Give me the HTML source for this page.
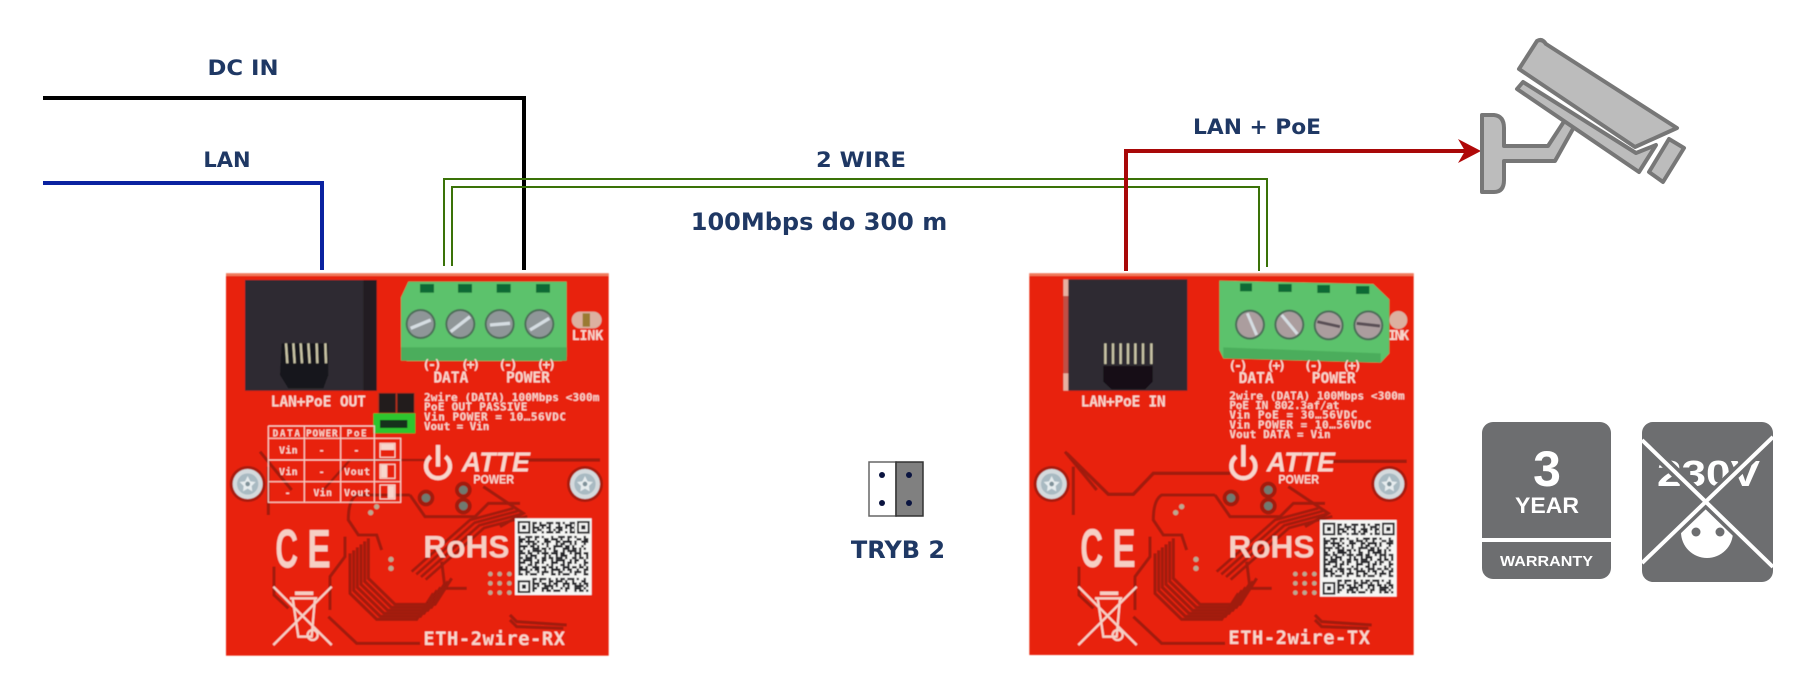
<!DOCTYPE html>
<html lang="pl">
<head>
<meta charset="utf-8">
<title>ETH-2wire</title>
<style>
html,body{margin:0;padding:0;background:#fff;width:1816px;height:700px;overflow:hidden}
svg{display:block}
.l{font-family:"DejaVu Sans","Liberation Sans",sans-serif;font-weight:700;fill:#1f3864;text-anchor:middle}
.m{font-family:"DejaVu Sans Mono","Liberation Mono",monospace;font-weight:700;fill:#f8d6cc}
.b{font-family:"Liberation Sans",sans-serif;font-weight:700;fill:#fff}
</style>
</head>
<body>
<svg width="1816" height="700" viewBox="0 0 1816 700" xmlns="http://www.w3.org/2000/svg">
<defs>
<clipPath id="nobadge"><rect x="1642" y="422" width="131" height="160" rx="11"/></clipPath>
<filter id="soft" x="-2%" y="-2%" width="104%" height="104%"><feGaussianBlur stdDeviation="1.5"/></filter>
<g id="screw">
  <circle r="54" fill="#a81a0e"/>
  <circle r="45" fill="#d4dadd"/>
  <circle r="32" fill="#a9bac2"/>
  <path d="M0 -24 L8 -8 L24 -6 L12 6 L14 22 L0 14 L-14 22 L-12 6 L-24 -6 L-8 -8Z" fill="#e6ecee"/>
  <circle r="7" fill="#7f929a"/>
</g>
<g id="scr">
  <circle r="45" fill="#4d6e58"/>
  <circle r="39" fill="#8f9698"/>
</g>
<g id="bus" fill="none" stroke="#a01a0e" stroke-width="9">
  <path d="M450 880V1000L530 1078H650L700 1000"/>
</g>
<g id="rbus" fill="none" stroke="#a01a0e" stroke-width="8">
  <path d="M635 935L810 780L940 745"/>
</g>
<g id="traces">
  <g fill="none" stroke="#a01a0e" stroke-width="9">
    <path d="M630 705H470Q445 720 445 780L475 825H530L545 870"/>
    <path d="M630 705L675 770H825L865 730H960"/>
    <path d="M850 680L970 760L900 800"/>
    <path d="M385 1070L470 1150H660"/>
    <path d="M930 1065L950 1085L1100 1095"/>
    <path d="M930 1080L950 1100L1090 1105"/>
    <path d="M222 920V1005L265 1045"/>
    <path d="M725 905L735 985H800"/>
    <path d="M435 830V890L390 950V1050"/>
    <path d="M180 575L275 690"/>
    <path d="M205 620V765"/>
  </g>
  <use href="#bus"/>
  <use href="#bus" transform="translate(11,-9)"/>
  <use href="#bus" transform="translate(22,-18)"/>
  <use href="#bus" transform="translate(33,-27)"/>
  <use href="#bus" transform="translate(44,-36)"/>
  <use href="#bus" transform="translate(55,-45)"/>
  <use href="#rbus"/>
  <use href="#rbus" transform="translate(14,8)"/>
  <use href="#rbus" transform="translate(28,16)"/>
  <use href="#rbus" transform="translate(42,24)"/>
  <circle cx="678" cy="714" r="25" fill="#a01a0e"/><circle cx="678" cy="714" r="13" fill="#6f7a70"/>
  <circle cx="790" cy="690" r="25" fill="#a01a0e"/><circle cx="790" cy="690" r="13" fill="#6f7a70"/>
  <circle cx="790" cy="738" r="25" fill="#a01a0e"/><circle cx="790" cy="738" r="13" fill="#6f7a70"/>
  <g fill="#bba890">
    <circle cx="530" cy="740" r="8"/><circle cx="512" cy="758" r="8"/>
    <circle cx="573" cy="898" r="8"/><circle cx="573" cy="925" r="8"/>
    <circle cx="871" cy="942" r="7"/><circle cx="899" cy="942" r="7"/><circle cx="928" cy="942" r="7"/>
    <circle cx="871" cy="970" r="7"/><circle cx="899" cy="970" r="7"/><circle cx="928" cy="970" r="7"/>
    <circle cx="871" cy="998" r="7"/><circle cx="899" cy="998" r="7"/><circle cx="928" cy="998" r="7"/>
  </g>
</g>
<g id="qr">
  <rect width="230" height="230" fill="#f6f6f4"/>
  <g stroke="#26262a" stroke-width="7" fill="none">
    <path d="M52 14H180" stroke-dasharray="14 7 7 14 21 7"/>
    <path d="M52 21H180" stroke-dasharray="7 14 21 7 7 21"/>
    <path d="M52 28H180" stroke-dasharray="21 7 7 7 14 14"/>
    <path d="M52 35H180" stroke-dasharray="7 7 14 21 7 7"/>
    <path d="M52 42H180" stroke-dasharray="14 14 7 7 21 7"/>
    <path d="M10 56H220" stroke-dasharray="7 14 21 7 14 7 7 21"/>
    <path d="M10 63H220" stroke-dasharray="21 7 7 14 7 21 14 7"/>
    <path d="M10 70H220" stroke-dasharray="14 7 28 7 7 14 21 14"/>
    <path d="M10 77H220" stroke-dasharray="7 21 7 7 14 14 7 7"/>
    <path d="M10 84H220" stroke-dasharray="28 7 14 7 7 21 7 14"/>
    <path d="M10 91H220" stroke-dasharray="7 7 7 21 21 7 14 7"/>
    <path d="M10 98H220" stroke-dasharray="14 14 7 7 28 7 7 21"/>
    <path d="M10 105H220" stroke-dasharray="21 7 14 14 7 7 21 7"/>
    <path d="M10 112H220" stroke-dasharray="7 14 7 7 21 21 7 7"/>
    <path d="M10 119H220" stroke-dasharray="14 7 21 7 7 14 14 7"/>
    <path d="M10 126H220" stroke-dasharray="7 7 28 14 7 7 14 14"/>
    <path d="M10 133H220" stroke-dasharray="21 14 7 7 14 7 7 21"/>
    <path d="M10 140H220" stroke-dasharray="7 21 14 7 7 28 7 7"/>
    <path d="M10 147H220" stroke-dasharray="14 7 7 14 21 7 14 7"/>
    <path d="M10 154H220" stroke-dasharray="28 7 7 7 14 14 7 14"/>
    <path d="M10 161H220" stroke-dasharray="7 14 14 21 7 7 21 7"/>
    <path d="M10 168H220" stroke-dasharray="14 7 7 7 21 14 7 21"/>
    <path d="M52 182H220" stroke-dasharray="14 7 21 7 7 14 7 7"/>
    <path d="M52 189H220" stroke-dasharray="7 14 7 21 14 7 21 7"/>
    <path d="M52 196H220" stroke-dasharray="21 7 14 7 7 7 14 14"/>
    <path d="M52 203H220" stroke-dasharray="7 7 7 14 28 7 7 14"/>
    <path d="M52 210H220" stroke-dasharray="14 14 21 7 7 21 7 7"/>
    <path d="M52 217H220" stroke-dasharray="7 21 7 7 14 7 21 14"/>
  </g>
  <g id="fd" fill="none" stroke="#26262a" stroke-width="6">
    <rect x="11" y="11" width="32" height="32"/>
    <rect x="21" y="21" width="12" height="12" fill="#26262a" stroke="none"/>
  </g>
  <use href="#fd" transform="translate(178,0)"/>
  <use href="#fd" transform="translate(0,178)"/>
</g>
<g id="bin" fill="none" stroke="#f6cfc4" stroke-width="7">
  <path d="M220 980L395 1155M395 980L220 1155"/>
  <path d="M270 1015H352M278 1015L295 1130H335L345 1015"/>
  <path d="M285 1000H340" stroke-width="11"/>
  <circle cx="338" cy="1125" r="15"/>
</g>
</defs>

<rect width="1816" height="700" fill="#fff"/>

<!-- Board 1 -->
<g transform="translate(200,260) scale(.33333)">
 <g filter="url(#soft)">
  <rect x="78" y="40" width="1148" height="1147" fill="#e8200d"/>
  <rect x="78" y="40" width="1148" height="8" fill="#f07a5c"/>
  <use href="#traces"/>
  <path d="M370 690L450 600H675" fill="none" stroke="#a01a0e" stroke-width="7"/>
  <path d="M960 600H1200" fill="none" stroke="#a01a0e" stroke-width="10"/>
  <!-- jack -->
  <rect x="135" y="60" width="395" height="332" fill="#2e2c33"/>
  <rect x="490" y="60" width="40" height="332" fill="#231c20"/>
  <path d="M245 250H385V345L370 385H265L240 345Z" fill="#16141a"/>
  <g stroke="#c9c4a6" stroke-width="7"><path d="M258 250L262 310M280 250L284 310M302 250L306 310M325 250L329 310M350 250L352 310M376 250L378 310"/></g>
  <!-- terminal -->
  <path d="M603 112L625 65H1100V290L1085 303H620L603 270Z" fill="#5cc26c"/>
  <rect x="603" y="262" width="497" height="40" fill="#4cad5b"/>
  <g fill="#0c6b34"><rect x="660" y="72" width="42" height="26"/><rect x="774" y="72" width="42" height="26"/><rect x="890" y="72" width="42" height="26"/><rect x="1008" y="72" width="42" height="26"/></g>
  <use href="#scr" x="662" y="192"/><use href="#scr" x="781" y="192"/><use href="#scr" x="899" y="192"/><use href="#scr" x="1018" y="192"/>
  <g stroke="#d5dde2" stroke-width="10"><path d="M632 205L692 180M752 215L810 170M870 195L930 190M990 210L1048 175"/></g>
  <!-- LED -->
  <rect x="1115" y="155" width="90" height="50" rx="25" fill="#dcb0a0"/>
  <rect x="1148" y="160" width="22" height="40" fill="#9a7a30"/>
  <text class="m" x="1115" y="240" font-size="40" textLength="95">LINK</text>
  <text class="m" x="667" y="327" font-size="40" textLength="58">(-)</text>
  <text class="m" x="783" y="327" font-size="40" textLength="58">(+)</text>
  <text class="m" x="895" y="327" font-size="40" textLength="58">(-)</text>
  <text class="m" x="1010" y="327" font-size="40" textLength="58">(+)</text>
  <text class="m" x="700" y="367" font-size="44" textLength="105">DATA</text>
  <text class="m" x="918" y="367" font-size="44" textLength="132">POWER</text>
  <text class="m" x="212" y="440" font-size="44" textLength="286">LAN+PoE OUT</text>
  <text class="m" x="672" y="423" font-size="33" textLength="526">2wire (DATA) 100Mbps &lt;300m</text>
  <text class="m" x="672" y="452" font-size="33" textLength="310">PoE OUT PASSIVE</text>
  <text class="m" x="672" y="481" font-size="33" textLength="426">Vin POWER = 10…56VDC</text>
  <text class="m" x="672" y="510" font-size="33" textLength="196">Vout = Vin</text>
  <!-- jumper -->
  <rect x="533" y="398" width="112" height="62" fill="#b8301f"/>
  <rect x="537" y="400" width="50" height="58" fill="#231a1c"/>
  <rect x="592" y="400" width="50" height="58" fill="#231a1c"/>
  <rect x="520" y="460" width="126" height="60" fill="#2dc52f"/>
  <rect x="540" y="480" width="82" height="24" fill="#14301a"/>
  <!-- table -->
  <g fill="none" stroke="#f8d6cc" stroke-width="3.5">
    <path d="M205 498H523V535M205 498V727H602V535H313M205 600H602M205 665H602M313 498V727M422 498V727M523 535V727M205 535H313"/>
    <rect x="540" y="550" width="45" height="42"/><rect x="540" y="613" width="45" height="42"/><rect x="540" y="675" width="45" height="42"/>
  </g>
  <g fill="#f8d6cc"><rect x="542" y="552" width="41" height="18"/><rect x="542" y="615" width="20" height="38"/><rect x="563" y="677" width="20" height="38"/></g>
  <text class="m" x="218" y="530" font-size="28" textLength="82">DATA</text>
  <text class="m" x="318" y="530" font-size="28" textLength="95">POWER</text>
  <text class="m" x="440" y="530" font-size="28" textLength="60">PoE</text>
  <text class="m" x="237" y="581" font-size="30" textLength="56">Vin</text>
  <text class="m" x="356" y="581" font-size="30">-</text>
  <text class="m" x="460" y="581" font-size="30">-</text>
  <text class="m" x="237" y="645" font-size="30" textLength="56">Vin</text>
  <text class="m" x="356" y="645" font-size="30">-</text>
  <text class="m" x="432" y="645" font-size="30" textLength="78">Vout</text>
  <text class="m" x="254" y="708" font-size="30">-</text>
  <text class="m" x="340" y="708" font-size="30" textLength="56">Vin</text>
  <text class="m" x="432" y="708" font-size="30" textLength="78">Vout</text>
  <!-- logo -->
  <path d="M692 590A36 36 0 1 0 736 590" fill="none" stroke="#f8d6cc" stroke-width="13"/>
  <path d="M714 555V620" stroke="#f8d6cc" stroke-width="13"/>
  <text class="b" x="785" y="635" font-size="84" font-style="italic" textLength="205" lengthAdjust="spacingAndGlyphs" style="fill:#f8d6cc">ATTE</text>
  <text class="b" x="820" y="670" font-size="36" textLength="122" lengthAdjust="spacingAndGlyphs" style="fill:#f8d6cc">POWER</text>
  <use href="#screw" x="143" y="672"/>
  <use href="#screw" x="1155" y="672"/>
  <text class="b" x="226" y="923" font-size="165" textLength="68" lengthAdjust="spacingAndGlyphs" style="fill:#f6cfc4">C</text>
  <text class="b" x="322" y="923" font-size="165" textLength="70" lengthAdjust="spacingAndGlyphs" style="fill:#f6cfc4">E</text>
  <text class="b" x="670" y="893" font-size="95" style="fill:#f6cfc4">RoHS</text>
  <use href="#qr" x="945" y="775"/>
  <use href="#bin"/>
  <text class="m" x="670" y="1155" font-size="56" textLength="425">ETH-2wire-RX</text>
 </g>
</g>

<!-- Board 2 -->
<g transform="translate(1010,260) scale(.33333)">
 <g filter="url(#soft)">
  <rect x="58" y="40" width="1153" height="1145" fill="#e8200d"/>
  <rect x="58" y="40" width="1153" height="8" fill="#f07a5c"/>
  <g transform="translate(-15,0)"><use href="#traces"/></g>
  <path d="M170 580L295 703H370L430 640H660" fill="none" stroke="#a01a0e" stroke-width="10"/>
  <path d="M960 604H1190" fill="none" stroke="#a01a0e" stroke-width="10"/>
  <!-- jack -->
  <rect x="160" y="58" width="18" height="334" fill="#c05045"/>
  <rect x="160" y="58" width="18" height="50" fill="#e8b0a0"/>
  <rect x="160" y="340" width="18" height="52" fill="#e8b0a0"/>
  <rect x="175" y="58" width="357" height="334" fill="#2e2c33"/>
  <path d="M280 318H428V365L405 388H305L280 365Z" fill="#121015"/>
  <g stroke="#c9c4a6" stroke-width="7"><path d="M286 250V312M309 250V312M332 250V312M354 250V312M376 250V312M399 250V312M424 250V312"/></g>
  <!-- terminal -->
  <path d="M628 62L1090 72L1138 118V280L1112 308L640 295L628 270Z" fill="#5cc26c"/>
  <path d="M640 262L1112 280V308L640 295Z" fill="#4cad5b"/>
  <g fill="#0c6b34"><rect x="690" y="70" width="36" height="24"/><rect x="805" y="72" width="40" height="24"/><rect x="922" y="75" width="38" height="24"/><rect x="1038" y="78" width="40" height="24"/></g>
  <use href="#scr" x="720" y="194"/><use href="#scr" x="838" y="194"/><use href="#scr" x="956" y="196"/><use href="#scr" x="1075" y="196"/>
  <g fill="#ab9d9e"><circle cx="720" cy="194" r="38"/><circle cx="838" cy="194" r="38"/><circle cx="956" cy="196" r="38"/><circle cx="1075" cy="196" r="38"/></g>
  <g stroke="#d5dde2" stroke-width="9"><path d="M712 160L740 225M815 165L862 222"/></g>
  <g stroke="#5a5056" stroke-width="9"><path d="M922 185L990 200M1040 190L1110 198"/></g>
  <circle cx="1165" cy="180" r="27" fill="#dcb0a0"/>
  <text class="m" x="1135" y="240" font-size="40" textLength="62">INK</text>
  <text class="m" x="655" y="330" font-size="40" textLength="58">(-)</text>
  <text class="m" x="770" y="330" font-size="40" textLength="58">(+)</text>
  <text class="m" x="882" y="330" font-size="40" textLength="58">(-)</text>
  <text class="m" x="997" y="330" font-size="40" textLength="58">(+)</text>
  <text class="m" x="686" y="369" font-size="44" textLength="105">DATA</text>
  <text class="m" x="905" y="369" font-size="44" textLength="132">POWER</text>
  <text class="m" x="212" y="440" font-size="44" textLength="255">LAN+PoE IN</text>
  <text class="m" x="658" y="418" font-size="33" textLength="526">2wire (DATA) 100Mbps &lt;300m</text>
  <text class="m" x="658" y="447" font-size="33" textLength="330">PoE IN 802.3af/at</text>
  <text class="m" x="658" y="476" font-size="33" textLength="384">Vin PoE = 30…56VDC</text>
  <text class="m" x="658" y="505" font-size="33" textLength="426">Vin POWER = 10…56VDC</text>
  <text class="m" x="658" y="534" font-size="33" textLength="304">Vout DATA = Vin</text>
  <path d="M678 590A36 36 0 1 0 722 590" fill="none" stroke="#f8d6cc" stroke-width="13"/>
  <path d="M700 555V620" stroke="#f8d6cc" stroke-width="13"/>
  <text class="b" x="770" y="635" font-size="84" font-style="italic" textLength="205" lengthAdjust="spacingAndGlyphs" style="fill:#f8d6cc">ATTE</text>
  <text class="b" x="805" y="670" font-size="36" textLength="122" lengthAdjust="spacingAndGlyphs" style="fill:#f8d6cc">POWER</text>
  <use href="#screw" x="125" y="672"/>
  <use href="#screw" x="1138" y="672"/>
  <text class="b" x="211" y="921" font-size="165" textLength="68" lengthAdjust="spacingAndGlyphs" style="fill:#f6cfc4">C</text>
  <text class="b" x="307" y="921" font-size="165" textLength="70" lengthAdjust="spacingAndGlyphs" style="fill:#f6cfc4">E</text>
  <text class="b" x="655" y="893" font-size="95" style="fill:#f6cfc4">RoHS</text>
  <use href="#qr" x="930" y="780"/>
  <use href="#bin" transform="translate(-15,0)"/>
  <text class="m" x="655" y="1152" font-size="56" textLength="425">ETH-2wire-TX</text>
 </g>
</g>

<!-- Wires -->
<g fill="none" stroke-linejoin="miter">
  <path d="M43 98H524V270" stroke="#000" stroke-width="4"/>
  <path d="M43 183H322V270" stroke="#0a22a0" stroke-width="4"/>
  <path d="M444 266V179H1267V267" stroke="#3a7208" stroke-width="2"/>
  <path d="M452 266V187H1259V271" stroke="#3a7208" stroke-width="2"/>
  <path d="M1126 271V151H1466" stroke="#a80808" stroke-width="4"/>
</g>
<path d="M1481 151L1458 139L1465 151L1458 163Z" fill="#b00808"/>

<!-- Labels -->
<text class="l" x="243" y="75" font-size="21" textLength="71" lengthAdjust="spacingAndGlyphs">DC IN</text>
<text class="l" x="227" y="167" font-size="21">LAN</text>
<text class="l" x="861" y="167" font-size="21" textLength="90" lengthAdjust="spacingAndGlyphs">2 WIRE</text>
<text class="l" x="819" y="230" font-size="24">100Mbps do 300 m</text>
<text class="l" x="1257" y="134" font-size="21" textLength="128" lengthAdjust="spacingAndGlyphs">LAN + PoE</text>
<text class="l" x="898" y="558" font-size="24">TRYB 2</text>

<!-- Camera -->
<g fill="#bcbcbc" stroke="#777" stroke-width="4" stroke-linejoin="round">
  <path d="M1482 115H1494Q1504 116 1504 128V146H1548L1565 120L1574 127L1555 161H1504V180Q1504 192 1494 192H1482Z"/>
  <path d="M1537 41Q1542 38 1546 44L1677 128L1635 147L1519 69Z"/>
  <path d="M1523 82L1636 153L1656 145L1639 172L1517 89Z"/>
  <path d="M1669 139L1684 148L1663 182L1649 172Z"/>
</g>

<!-- Jumper icon -->
<rect x="869" y="462" width="27" height="54" fill="#fff" stroke="#666" stroke-width="1.5"/>
<rect x="896" y="462" width="27" height="54" fill="#808080" stroke="#333" stroke-width="1.5"/>
<g fill="#0a1440"><circle cx="882" cy="475" r="3"/><circle cx="882" cy="503" r="3"/><circle cx="909" cy="475" r="3"/><circle cx="909" cy="503" r="3"/></g>

<!-- Warranty -->
<rect x="1482" y="422" width="129" height="157" rx="11" fill="#6d6e70"/>
<rect x="1482" y="538" width="129" height="4" fill="#fff"/>
<text class="b" x="1547" y="486" font-size="50" text-anchor="middle">3</text>
<text class="b" x="1515" y="513" font-size="22" textLength="64" lengthAdjust="spacingAndGlyphs">YEAR</text>
<text class="b" x="1500" y="566" font-size="15" textLength="93" lengthAdjust="spacingAndGlyphs">WARRANTY</text>

<!-- No 230V -->
<rect x="1642" y="422" width="131" height="160" rx="11" fill="#6d6e70"/>
<text class="b" x="1657" y="486" font-size="36" textLength="103" lengthAdjust="spacingAndGlyphs">230V</text>
<circle cx="1707" cy="532" r="26" fill="#fff"/>
<circle cx="1696" cy="532" r="4.5" fill="#6d6e70"/>
<circle cx="1720" cy="532" r="4.5" fill="#6d6e70"/>
<g clip-path="url(#nobadge)">
  <path d="M1642 440L1773 567M1773 437L1642 563" stroke="#6d6e70" stroke-width="11" fill="none"/>
  <path d="M1642 440L1773 567M1773 437L1642 563" stroke="#fff" stroke-width="4" fill="none"/>
</g>
</svg>
</body>
</html>
